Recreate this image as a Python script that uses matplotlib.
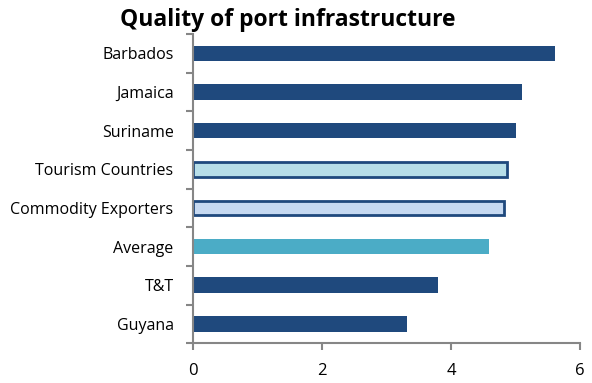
import numpy as np
import matplotlib
matplotlib.use('Agg')
import matplotlib.pyplot as plt

# datos (de arriba hacia abajo)
paises = ["Barbados", "Jamaica", "Suriname", "Tourism Countries",
          "Commodity Exporters", "Average", "T&T", "Guyana"]
valores = [5.61, 5.10, 5.01, 4.86, 4.82, 4.59, 3.80, 3.31]
colores = ["#1F497D", "#1F497D", "#1F497D", "#B7DEE8",
           "#C6D9F1", "#4BACC6", "#1F497D", "#1F497D"]
bordes = [False, False, False, True, True, False, False, False]

plt.rcParams['font.family'] = ['Open Sans', 'DejaVu Sans']
gris = "#868686"

fig = plt.figure(figsize=(5.92, 3.83), dpi=100)
ax = fig.add_axes([0.326, 0.104, 0.654, 0.807])

y = np.arange(len(paises))[::-1]
for yi, v, c, b in zip(y, valores, colores, bordes):
    if b:
        ax.barh(yi, v, height=0.38, color=c, edgecolor="#1F497D", linewidth=2)
    else:
        ax.barh(yi, v, height=0.4, color=c)

ax.set_xlim(0, 6)
ax.set_ylim(-0.5, len(paises) - 0.5)
ax.set_xticks([0, 2, 4, 6])
ax.set_yticks(y)
ax.set_yticklabels(paises, fontsize=11.5)
ax.tick_params(axis='y', length=0, pad=14)
ax.set_yticks(np.arange(-0.5, len(paises), 1), minor=True)
ax.tick_params(axis='y', which='minor', length=5, color=gris, width=1.5)
ax.tick_params(axis='x', length=5, color=gris, width=1.5, labelsize=12, pad=9)

for s in ["top", "right"]:
    ax.spines[s].set_visible(False)
for s in ["left", "bottom"]:
    ax.spines[s].set_color(gris)
    ax.spines[s].set_linewidth(1.5)

fig.suptitle("Quality of port infrastructure", x=0.486, y=0.978,
             fontsize=16.5, fontweight='bold')

fig.savefig("out.png", dpi=100)
